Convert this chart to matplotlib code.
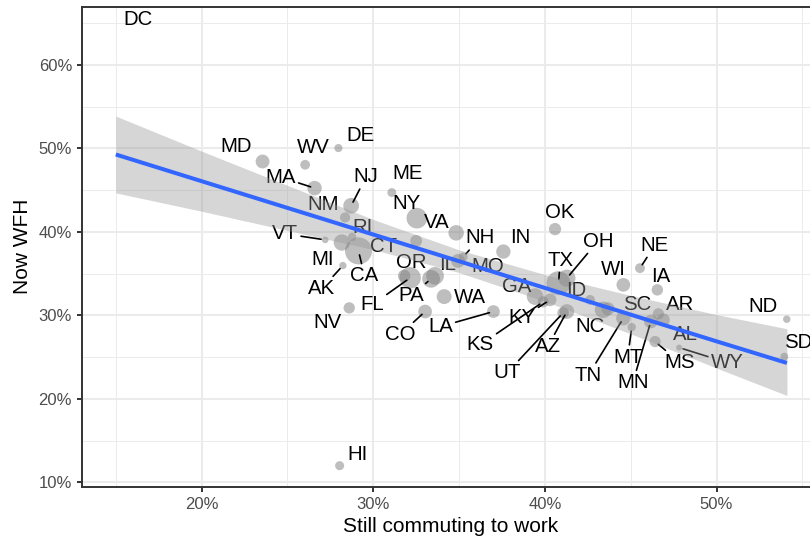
import numpy as np
import matplotlib.pyplot as plt
from matplotlib.ticker import FixedLocator, FuncFormatter

plt.rcParams['font.family'] = ['Liberation Sans', 'DejaVu Sans']

# share of workers still commuting vs now working from home, by state
states = ['DC', 'MD', 'WV', 'DE', 'MA', 'NJ', 'NM', 'ME', 'NY', 'VA',
          'VT', 'MI', 'RI', 'CA', 'CT', 'AK', 'OR', 'FL', 'PA', 'IL',
          'WA', 'CO', 'NV', 'HI', 'NH', 'MO', 'IN', 'OK', 'TX', 'OH',
          'GA', 'ID', 'KY', 'KS', 'AZ', 'UT', 'LA', 'NC', 'SC', 'TN',
          'MT', 'MN', 'NE', 'WI', 'IA', 'AR', 'AL', 'MS', 'WY', 'ND', 'SD']
commute = [0.150, 0.2355, 0.2603, 0.2797, 0.2658, 0.2871, 0.2836, 0.3108, 0.3254, 0.3483,
           0.2720, 0.2817, 0.2877, 0.2914, 0.3250, 0.2823, 0.3180, 0.3215, 0.3337, 0.3360,
           0.3413, 0.3302, 0.2860, 0.2804, 0.3524, 0.3494, 0.3758, 0.4059, 0.4079, 0.4128,
           0.3943, 0.4263, 0.4030, 0.3990, 0.4128, 0.4106, 0.3700, 0.4339, 0.4368, 0.4457,
           0.4506, 0.4617, 0.4554, 0.4457, 0.4655, 0.4661, 0.4690, 0.4642, 0.4782, 0.5409, 0.5395]
wfh = [0.644, 0.4844, 0.4805, 0.5005, 0.4525, 0.4313, 0.4173, 0.4472, 0.4165, 0.3989,
       0.3905, 0.3873, 0.3941, 0.3773, 0.3893, 0.3597, 0.3474, 0.3450, 0.3438, 0.3474,
       0.3225, 0.3046, 0.3090, 0.1199, 0.3701, 0.3653, 0.3765, 0.4034, 0.3386, 0.3446,
       0.3225, 0.3186, 0.3186, 0.3162, 0.3046, 0.3030, 0.3046, 0.3066, 0.3078, 0.2966,
       0.2859, 0.2926, 0.3566, 0.3366, 0.3306, 0.3018, 0.2946, 0.2686, 0.2614, 0.2954, 0.2506]
# population in millions (no point drawn for DC)
population = [np.nan, 6.0, 1.8, 0.97, 6.9, 8.9, 2.1, 1.3, 19.5, 8.5,
              0.62, 10.0, 1.06, 39.5, 3.6, 0.73, 4.2, 21.5, 12.8, 12.7,
              7.6, 5.8, 3.1, 1.4, 1.36, 6.1, 6.7, 4.0, 29.0, 11.7,
              10.6, 1.8, 4.5, 2.9, 7.3, 3.2, 4.6, 10.5, 5.1, 6.8,
              1.07, 5.6, 1.9, 5.8, 3.2, 3.0, 4.9, 3.0, 0.58, 0.76, 0.88]

# fitted line and confidence band
fit_x = [0.15, 0.20, 0.25, 0.30, 0.35, 0.40, 0.45, 0.50, 0.541]
fit_y = [0.4928, 0.4608, 0.4288, 0.3969, 0.3649, 0.3329, 0.3009, 0.2689, 0.2430]
fit_lo = [0.4468, 0.4248, 0.4018, 0.3789, 0.3513, 0.3169, 0.2779, 0.2369, 0.2040]
fit_hi = [0.5388, 0.4968, 0.4558, 0.4149, 0.3785, 0.3489, 0.3239, 0.3009, 0.2840]

# label placement (pixel offsets from the point), repel-style
label_offset = {
    'DC': (22, 9), 'MD': (-26, 15), 'WV': (8, 17), 'DE': (22, 13), 'MA': (-34, 11),
    'NJ': (15, 29), 'NM': (-22, 13), 'ME': (16, 19), 'NY': (-10, 15), 'VA': (-19, 10),
    'VT': (-40, 6), 'MI': (-19, -17), 'RI': (10, 9), 'CA': (6, -25), 'CT': (-33, -6),
    'AK': (-21, -23), 'OR': (7, 13), 'FL': (-38, -27), 'PA': (-20, -17), 'IL': (13, 11),
    'WA': (26, -1), 'CO': (-25, -23), 'NV': (-22, -15), 'HI': (18, 11), 'NH': (17, 19),
    'MO': (30, -6), 'IN': (17, 14), 'OK': (5, 17), 'TX': (2, 23), 'OH': (31, 37),
    'GA': (-18, 10), 'ID': (-14, 9), 'KY': (-28, -18), 'KS': (-63, -43), 'AZ': (-19, -35),
    'UT': (-56, -60), 'LA': (-53, -15), 'NC': (-13, -17), 'SC': (29, 4), 'TN': (-35, -57),
    'MT': (-4, -30), 'MN': (-18, -61), 'NE': (15, 23), 'WI': (-10, 15), 'IA': (3, 13),
    'AR': (22, 9), 'AL': (22, -15), 'MS': (25, -21), 'WY': (48, -15), 'ND': (-24, 13),
    'SD': (14, 14),
}
with_segment = ['MA', 'NJ', 'VT', 'CA', 'AK', 'FL', 'PA', 'CO', 'NH', 'TX', 'OH',
                'KY', 'KS', 'AZ', 'UT', 'LA', 'TN', 'MT', 'MN', 'NE', 'MS', 'WY']

df_x = np.array(commute)
df_y = np.array(wfh)
pop = np.array(population)

# area-style size scale: radius in px
pmin, pmax = np.nanmin(pop), np.nanmax(pop)
radius = 3.0 + 10.5 * np.sqrt((pop - pmin) / (pmax - pmin))
dpi = 100
sizes = (2 * radius * 72 / dpi) ** 2

fig = plt.figure(figsize=(8.1, 5.41), dpi=dpi)
ax = fig.add_axes([82 / 810, 1 - 486.7 / 541, (819 - 82) / 810, (486.7 - 6.7) / 541])

ok = ~np.isnan(pop)
ax.scatter(df_x[ok], df_y[ok], s=sizes[ok], color='#7F7F7F', alpha=0.5,
           linewidths=0, zorder=2)

for st, x, y in zip(states, commute, wfh):
    dx, dy = label_offset[st]
    props = None
    if st in with_segment:
        props = dict(arrowstyle='-', color='black', lw=1.2, shrinkA=0, shrinkB=3)
    ax.annotate(st, (x, y), xytext=(dx, dy), textcoords='offset pixels',
                ha='center', va='center', fontsize=14.7, color='black',
                arrowprops=props, zorder=3)

ax.fill_between(fit_x, fit_lo, fit_hi, color='#999999', alpha=0.4, lw=0, zorder=4)
ax.plot(fit_x, fit_y, color='#3366FF', lw=2.9, zorder=5, solid_capstyle='butt')

ax.set_xlim(0.1303, 0.5597)
ax.set_ylim(0.0947, 0.6699)

pct = FuncFormatter(lambda v, p: f"{int(round(v * 100))}%")
ax.xaxis.set_major_locator(FixedLocator([0.2, 0.3, 0.4, 0.5]))
ax.xaxis.set_minor_locator(FixedLocator([0.15, 0.25, 0.35, 0.45, 0.55]))
ax.yaxis.set_major_locator(FixedLocator([0.1, 0.2, 0.3, 0.4, 0.5, 0.6]))
ax.yaxis.set_minor_locator(FixedLocator([0.15, 0.25, 0.35, 0.45, 0.55, 0.65]))
ax.xaxis.set_major_formatter(pct)
ax.yaxis.set_major_formatter(pct)

ax.grid(which='major', color='#EBEBEB', lw=1.45)
ax.grid(which='minor', color='#EBEBEB', lw=0.72)
ax.set_axisbelow(True)

for sp in ax.spines.values():
    sp.set_color('#333333')
    sp.set_linewidth(1.4)
ax.tick_params(which='major', length=3.7, width=1.4, color='#333333',
               labelsize=12, labelcolor='#4D4D4D', pad=3.5)
ax.tick_params(which='minor', length=0)

ax.set_xlabel('Still commuting to work', fontsize=15, labelpad=4)
ax.set_ylabel('Now WFH', fontsize=15, labelpad=5)

fig.savefig('out.png', dpi=dpi)
